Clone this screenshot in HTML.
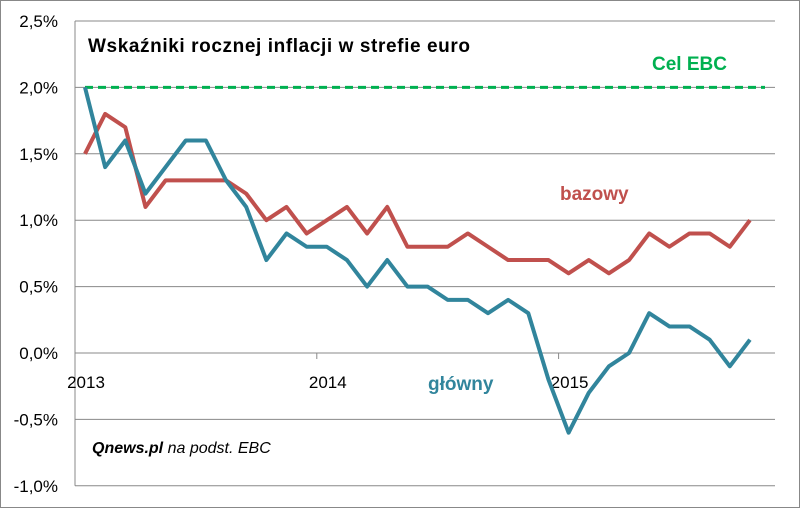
<!DOCTYPE html>
<html><head><meta charset="utf-8"><style>
body{margin:0;background:#fff;}
svg{display:block;font-family:"Liberation Sans",sans-serif;}
</style></head><body>
<svg id="c" width="800" height="508">
<rect x="0.5" y="0.5" width="799" height="507" fill="#fff" stroke="#888"/>
<g id="grid"></g><g id="axes"></g><g id="series"></g>
<text x="88" y="52" font-size="19" font-weight="bold" fill="#000" textLength="382">Wskaźniki rocznej inflacji w strefie euro</text>
<text x="652" y="70" font-size="19" font-weight="bold" fill="#00b050">Cel EBC</text>
<text x="560" y="200" font-size="19" font-weight="bold" fill="#c0504d">bazowy</text>
<text x="428" y="390" font-size="19" font-weight="bold" fill="#31859c">główny</text>
<text x="92" y="453" font-size="16" font-style="italic" fill="#000"><tspan font-weight="bold">Qnews.pl</tspan> na podst. EBC</text>
</svg>
<script>
const yTicks=[2.5,2.0,1.5,1.0,0.5,0.0,-0.5,-1.0];
const yTickLabels=["2,5%","2,0%","1,5%","1,0%","0,5%","0,0%","-0,5%","-1,0%"];
const xLabels=["2013","2014","2015"];
const xLabelIdx=[0,12,24];
const headline=[2.0,1.4,1.6,1.2,1.4,1.6,1.6,1.3,1.1,0.7,0.9,0.8,0.8,0.7,0.5,0.7,0.5,0.5,0.4,0.4,0.3,0.4,0.3,-0.2,-0.6,-0.3,-0.1,0.0,0.3,0.2,0.2,0.1,-0.1,0.1];
const core=[1.5,1.8,1.7,1.1,1.3,1.3,1.3,1.3,1.2,1.0,1.1,0.9,1.0,1.1,0.9,1.1,0.8,0.8,0.8,0.9,0.8,0.7,0.7,0.7,0.6,0.7,0.6,0.7,0.9,0.8,0.9,0.9,0.8,1.0];
const target=2.0;
const NS="http://www.w3.org/2000/svg";
const X0=85,DX=20.15,L=75,R=775;
const y=v=>353-v*132.8;
const x=i=>X0+i*DX;
function mk(t,a,p){const e=document.createElementNS(NS,t);for(const k in a)e.setAttribute(k,a[k]);p.appendChild(e);return e;}
const g=document.getElementById('grid'),ax=document.getElementById('axes'),s=document.getElementById('series');
yTicks.forEach((v,i)=>{
 const l=mk('line',{x1:L,x2:R,y1:y(v),y2:y(v),stroke:'#888','stroke-width':1},g);
 
 
 const t=mk('text',{x:58,y:y(v)+6,'font-size':17,'text-anchor':'end',fill:'#000'},ax);
 t.textContent=yTickLabels[i];
 
 
});
const ya=mk('line',{x1:L,x2:L,y1:y(2.5),y2:y(-1),stroke:'#888'},ax);


xLabels.forEach((lb,i)=>{
 const tk=mk('line',{x1:x(xLabelIdx[i])-10,x2:x(xLabelIdx[i])-10,y1:y(0),y2:y(0)+6,stroke:'#888'},ax);
 
 
 const t=mk('text',{x:x(xLabelIdx[i])+1,y:y(0)+35,'font-size':17,'text-anchor':'middle',fill:'#000'},ax);
 t.textContent=lb;
 
 
});
const tl=mk('line',{x1:x(0),x2:R-10,y1:y(target),y2:y(target),stroke:'#00b050','stroke-width':3,'stroke-dasharray':'8,5'},s);


const c=mk('polyline',{points:core.map((v,i)=>x(i)+','+y(v)).join(' '),fill:'none',stroke:'#c0504d','stroke-width':4,'stroke-linejoin':'round'},s);


const h=mk('polyline',{points:headline.map((v,i)=>x(i)+','+y(v)).join(' '),fill:'none',stroke:'#31859c','stroke-width':4,'stroke-linejoin':'round'},s);


</script>
</body></html>
